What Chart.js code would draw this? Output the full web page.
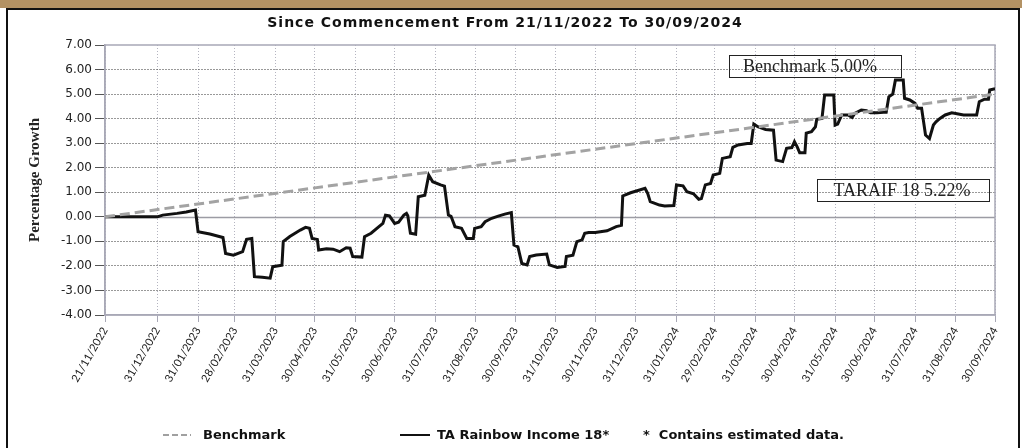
<!DOCTYPE html>
<html>
<head>
<meta charset="utf-8">
<script src="https://cdn.jsdelivr.net/npm/chart.js@4.4.1/dist/chart.umd.min.js"></script>
<style>
  html, body { margin: 0; padding: 0; background: #fff; }
  #wrap { position: relative; width: 1022px; height: 448px; overflow: hidden; }
  .band { position: absolute; left: 0; top: 0; width: 1022px; height: 8px; background: #b39264; }
  .frame { position: absolute; left: 6px; top: 8px; width: 1010px; height: 470px; border: 2px solid #111; }
  #chart { position: absolute; left: 0; top: 0; }
  .title { position: absolute; left: 0; top: 13px; width: 1010px; text-align: center; font: bold 14px/18px 'DejaVu Sans', sans-serif; letter-spacing: 1px; color: #111; white-space: nowrap; }
  .legend { position: absolute; top: 427px; font: bold 13px 'DejaVu Sans', sans-serif; color: #111; white-space: nowrap; }
  .swatch { position: absolute; top: 431px; }
</style>
</head>
<body>
<div id="wrap">
  <div class="band"></div>
  <div class="frame"></div>
  <canvas id="chart" width="1022" height="448"></canvas>
  <div class="title" id="title"></div>
  <svg class="swatch" style="left:163px" width="28" height="8"><line x1="0" y1="4" x2="28" y2="4" stroke="#a0a0a0" stroke-width="2" stroke-dasharray="6 3"/></svg>
  <div class="legend" id="lg0" style="left:203px"></div>
  <svg class="swatch" style="left:400px" width="30" height="8"><line x1="0" y1="4" x2="30" y2="4" stroke="#111" stroke-width="2"/></svg>
  <div class="legend" id="lg1" style="left:437px"></div>
  <div class="legend" style="left:643px">*&nbsp; Contains estimated data.</div>
</div>
<script>
const chartTitle = 'Since Commencement From 21/11/2022 To 30/09/2024';
const startDate = '21/11/2022';
const seriesNames = ['Benchmark', 'TA Rainbow Income 18*'];

const tickLabels = [
  '21/11/2022', '31/12/2022', '31/01/2023', '28/02/2023', '31/03/2023', '30/04/2023',
  '31/05/2023', '30/06/2023', '31/07/2023', '31/08/2023', '30/09/2023', '31/10/2023',
  '30/11/2023', '31/12/2023', '31/01/2024', '29/02/2024', '31/03/2024', '30/04/2024',
  '31/05/2024', '30/06/2024', '31/07/2024', '31/08/2024', '30/09/2024'
];

// days since the start date
const benchDays = [0, 679];
const benchValues = [0.00, 5.00];

const fundDays = [
  0, 40, 44, 55, 62, 69, 71, 80, 90, 92,
  98, 105, 108, 112, 114, 120, 126, 128, 135, 136,
  141, 149, 153, 156, 158, 162, 163, 169, 174, 179,
  184, 187, 189, 196, 198, 203, 209, 212, 214, 217,
  221, 224, 228, 230, 231, 233, 237, 239, 244, 247,
  250, 256, 259, 262, 264, 267, 272, 276, 281, 282,
  287, 290, 295, 300, 305, 310, 312, 315, 318, 322,
  324, 329, 337, 339, 345, 351, 352, 357, 360, 364,
  366, 369, 374, 383, 390, 394, 395, 401, 406, 412,
  414, 416, 423, 427, 434, 436, 441, 444, 449, 453,
  455, 458, 462, 464, 469, 471, 477, 479, 483, 490,
  493, 495, 498, 504, 510, 512, 517, 520, 524, 526,
  528, 530, 534, 535, 539, 542, 543, 547, 549, 556,
  557, 559, 562, 567, 570, 572, 577, 581, 584, 589,
  594, 596, 598, 601, 603, 609, 610, 614, 618, 620,
  623, 626, 629, 632, 634, 637, 641, 646, 650, 655,
  661, 665, 667, 671, 674, 675, 679
];
const fundValues = [
  0.00, 0.00, 0.07, 0.14, 0.20, 0.28, -0.61, -0.70, -0.84, -1.49,
  -1.56, -1.42, -0.92, -0.88, -2.44, -2.46, -2.50, -2.03, -1.97, -1.01,
  -0.80, -0.54, -0.43, -0.47, -0.88, -0.92, -1.35, -1.30, -1.32, -1.42,
  -1.26, -1.28, -1.62, -1.64, -0.81, -0.67, -0.40, -0.27, 0.07, 0.04,
  -0.27, -0.22, 0.07, 0.14, 0.04, -0.67, -0.71, 0.82, 0.88, 1.70,
  1.43, 1.30, 1.25, 0.07, 0.02, -0.40, -0.47, -0.88, -0.88, -0.47,
  -0.40, -0.20, -0.06, 0.03, 0.11, 0.17, -1.15, -1.22, -1.90, -1.96,
  -1.62, -1.56, -1.52, -1.96, -2.06, -2.02, -1.62, -1.56, -1.01, -0.94,
  -0.67, -0.64, -0.64, -0.57, -0.40, -0.35, 0.85, 0.98, 1.06, 1.16,
  0.96, 0.62, 0.48, 0.44, 0.46, 1.30, 1.26, 1.02, 0.94, 0.71,
  0.74, 1.30, 1.36, 1.70, 1.77, 2.38, 2.45, 2.83, 2.93, 2.99,
  2.99, 3.78, 3.67, 3.56, 3.53, 2.31, 2.25, 2.79, 2.82, 3.06,
  2.86, 2.61, 2.61, 3.41, 3.47, 3.67, 3.97, 4.01, 4.96, 4.96,
  3.74, 3.78, 4.15, 4.15, 4.05, 4.21, 4.35, 4.32, 4.24, 4.24,
  4.26, 4.26, 4.89, 5.00, 5.57, 5.57, 4.83, 4.76, 4.62, 4.42,
  4.42, 3.33, 3.19, 3.74, 3.87, 4.01, 4.15, 4.24, 4.20, 4.15,
  4.15, 4.15, 4.69, 4.79, 4.79, 5.17, 5.22
];

const yMin = -4;
const yMax = 7;

const parseDate = (s) => {
  const [d, m, y] = s.split('/').map(Number);
  return Date.UTC(y, m - 1, d);
};
const t0 = parseDate(startDate);
const tickDays = tickLabels.map(s => Math.round((parseDate(s) - t0) / 864e5));
const toPoints = (days, vals) => days.map((d, i) => ({ x: d, y: vals[i] }));

document.getElementById('title').textContent = chartTitle;
document.getElementById('lg0').textContent = seriesNames[0];
document.getElementById('lg1').textContent = seriesNames[1];

// solid zero line and grey box round the plot
const plotFrame = {
  id: 'plotFrame',
  beforeDatasetsDraw(chart) {
    const { ctx, chartArea: a, scales: { y } } = chart;
    ctx.save();
    ctx.lineWidth = 1.5;
    ctx.strokeStyle = '#9c9ca4';
    const y0 = Math.round(y.getPixelForValue(0)) + 0.5;
    ctx.beginPath();
    ctx.moveTo(a.left, y0);
    ctx.lineTo(a.right, y0);
    ctx.stroke();
    ctx.strokeStyle = '#a8a8b6';
    ctx.strokeRect(a.left, a.top, a.right - a.left, a.bottom - a.top);
    ctx.restore();
  }
};

// boxed end values
const valueBoxes = {
  id: 'valueBoxes',
  afterDatasetsDraw(chart) {
    const { ctx, chartArea: a } = chart;
    const boxes = [
      { text: 'Benchmark ' + benchValues[benchValues.length - 1].toFixed(2) + '%', x: a.right - 266, y: a.top + 10, dx: -5 },
      { text: 'TARAIF 18 ' + fundValues[fundValues.length - 1].toFixed(2) + '%', x: a.right - 178, y: a.top + 134, dx: -1 }
    ];
    ctx.save();
    ctx.font = '18px "Liberation Serif", serif';
    ctx.textAlign = 'center';
    ctx.textBaseline = 'middle';
    ctx.fillStyle = '#222';
    ctx.strokeStyle = '#222';
    ctx.lineWidth = 1;
    for (const b of boxes) {
      ctx.strokeRect(b.x + 0.5, b.y + 0.5, 172, 22);
      ctx.fillText(b.text, b.x + 86 + b.dx, b.y + 12);
    }
    ctx.restore();
  }
};

new Chart(document.getElementById('chart'), {
  type: 'line',
  data: {
    datasets: [
      {
        label: seriesNames[0],
        data: toPoints(benchDays, benchValues),
        borderColor: '#a3a3a3',
        borderWidth: 3,
        borderDash: [10, 5],
        pointRadius: 0,
        fill: false
      },
      {
        label: seriesNames[1],
        data: toPoints(fundDays, fundValues),
        borderColor: '#111',
        borderWidth: 3,
        pointRadius: 0,
        tension: 0,
        fill: false
      }
    ]
  },
  options: {
    responsive: false,
    animation: false,
    devicePixelRatio: 1,
    layout: { padding: { left: 0, right: 27, top: 45, bottom: 48 } },
    plugins: {
      legend: { display: false },
      tooltip: { enabled: false },
      title: { display: false }
    },
    scales: {
      x: {
        type: 'linear',
        min: tickDays[0],
        max: tickDays[tickDays.length - 1],
        afterBuildTicks: (axis) => { axis.ticks = tickDays.map(v => ({ value: v })); },
        afterFit: (axis) => { axis.height = 85; },
        ticks: {
          autoSkip: false,
          minRotation: 60,
          maxRotation: 60,
          padding: 3,
          color: '#222',
          font: { family: 'Lato', size: 11 },
          callback: (v, i) => tickLabels[i]
        },
        grid: { color: '#b4b4c0', lineWidth: 1, tickLength: 7, tickColor: '#a8a8b6', tickBorderDash: [] },
        border: { color: '#a8a8b6', width: 1.5, dash: [1, 2] }
      },
      y: {
        min: yMin,
        max: yMax,
        afterFit: (axis) => { axis.width = 105; },
        ticks: {
          stepSize: 1,
          padding: 3,
          color: '#222',
          font: { family: 'DejaVu Sans', size: 12 },
          callback: (v) => Number(v).toFixed(2)
        },
        grid: {
          color: (c) => (c.tick && (c.tick.value === 0 || c.tick.value === yMin || c.tick.value === yMax)) ? 'rgba(0,0,0,0)' : '#333',
          lineWidth: 1,
          tickLength: 10,
          tickColor: '#555',
          tickBorderDash: []
        },
        border: { color: '#a8a8b6', width: 1.5, dash: [1, 2] },
        title: {
          display: true,
          text: 'Percentage Growth',
          color: '#222',
          font: { family: 'Liberation Serif', weight: 'bold', size: 15 },
          padding: { top: 26, bottom: 0 }
        }
      }
    }
  },
  plugins: [plotFrame, valueBoxes]
});
</script>
</body>
</html>
